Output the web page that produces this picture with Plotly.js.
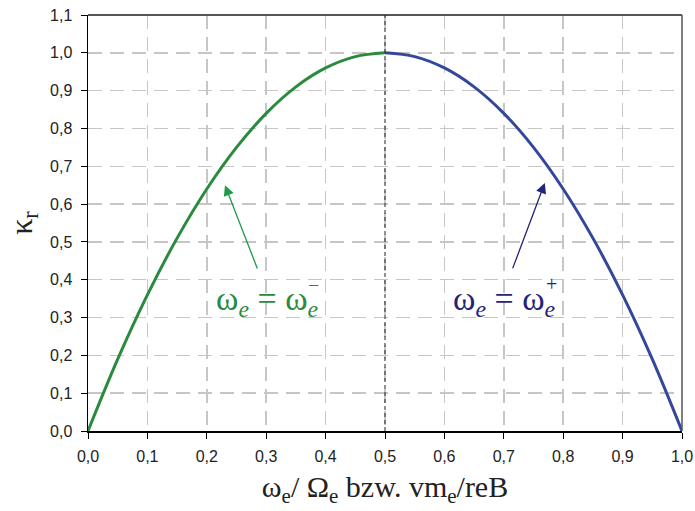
<!DOCTYPE html>
<html>
<head>
<meta charset="utf-8">
<script src="https://cdn.plot.ly/plotly-3.0.1.min.js"></script>
<style>
  html, body { margin: 0; padding: 0; background: #fff; }
  #chart { width: 695px; height: 511px; }
</style>
</head>
<body>
<div id="chart"></div>
<script>
// Branch ω_e = ω_e⁻ (left half)
const xMinus = [0.00, 0.05, 0.10, 0.15, 0.20, 0.25, 0.30, 0.35, 0.40, 0.45, 0.50];
const kMinus = [0.00, 0.19, 0.36, 0.51, 0.64, 0.75, 0.84, 0.91, 0.96, 0.99, 1.00];

// Branch ω_e = ω_e⁺ (right half)
const xPlus = [0.50, 0.55, 0.60, 0.65, 0.70, 0.75, 0.80, 0.85, 0.90, 0.95, 1.00];
const kPlus = [1.00, 0.99, 0.96, 0.91, 0.84, 0.75, 0.64, 0.51, 0.36, 0.19, 0.00];

const xTicks = [0, 0.1, 0.2, 0.3, 0.4, 0.5, 0.6, 0.7, 0.8, 0.9, 1.0];
const yTicks = [0, 0.1, 0.2, 0.3, 0.4, 0.5, 0.6, 0.7, 0.8, 0.9, 1.0, 1.1];

const green = '#2a8a3e';
const blue = '#34489a';
const arrowGreen = '#1f9a4a';
const arrowBlue = '#24237a';

const serif = 'Liberation Serif';
const sans = 'Arial, Liberation Sans, sans-serif';

const traces = [
  { x: xMinus, y: kMinus, type: 'scatter', mode: 'lines',
    line: { color: green, width: 3, shape: 'spline' }, hoverinfo: 'skip' },
  { x: xPlus, y: kPlus, type: 'scatter', mode: 'lines',
    line: { color: blue, width: 3, shape: 'spline' }, hoverinfo: 'skip' }
];

const gridStyle = { gridcolor: '#c6c6c6', gridwidth: 1.5, griddash: '14px,8px' };

const layout = {
  width: 695, height: 511,
  margin: { l: 88, r: 13, t: 15, b: 80 },
  paper_bgcolor: '#fff', plot_bgcolor: '#fff',
  showlegend: false,
  separators: ',.',
  font: { family: sans, size: 16, color: '#222' },
  xaxis: Object.assign({
    range: [0, 1], tickvals: xTicks, tickformat: '.1f',
    tickfont: { family: sans, size: 16, color: '#222' },
    ticklabelstandoff: 4,
    showline: true, linecolor: '#000', linewidth: 1.5,
    ticks: 'outside', ticklen: 6, tickcolor: '#000', tickwidth: 1,
    zeroline: false, showgrid: true,
    title: { text: 'ω<sub>e</sub>/ Ω<sub>e</sub> bzw. vm<sub>e</sub>/reB',
             font: { family: serif, size: 30, color: '#222' }, standoff: 12 }
  }, gridStyle),
  yaxis: Object.assign({
    range: [0, 1.1], tickvals: yTicks, tickformat: '.1f',
    tickfont: { family: sans, size: 16, color: '#222' },
    ticklabelstandoff: 5,
    showline: true, linecolor: '#000', linewidth: 1.5,
    ticks: 'outside', ticklen: 6, tickcolor: '#000', tickwidth: 1,
    zeroline: false, showgrid: true,
    title: { text: 'κ<sub>r</sub>', font: { family: serif, size: 32, color: '#222' }, standoff: 8 }
  }, gridStyle),
  shapes: [
    // frame top and right
    { type: 'line', xref: 'paper', yref: 'paper', x0: 0, x1: 1, y0: 1, y1: 1,
      line: { color: '#555', width: 2 } },
    { type: 'line', xref: 'paper', yref: 'paper', x0: 1, x1: 1, y0: 0, y1: 1,
      line: { color: '#555', width: 1.5 } },
    // maximum marker at x = 0,5
    { type: 'line', xref: 'x', yref: 'paper', x0: 0.5, x1: 0.5, y0: 0, y1: 1,
      line: { color: '#222', width: 1, dash: '4px,3px' } }
  ],
  annotations: [
    { x: 0.2306, y: 0.650, ax: 0.286, ay: 0.426, axref: 'x', ayref: 'y',
      xref: 'x', yref: 'y', text: '', showarrow: true,
      arrowhead: 2, arrowsize: 1.6, arrowwidth: 1.3, arrowcolor: arrowGreen },
    { x: 0.769, y: 0.656, ax: 0.714, ay: 0.426, axref: 'x', ayref: 'y',
      xref: 'x', yref: 'y', text: '', showarrow: true,
      arrowhead: 2, arrowsize: 1.6, arrowwidth: 1.3, arrowcolor: arrowBlue },
    { x: 0.303, y: 0.345, xref: 'x', yref: 'y', showarrow: false,
      text: 'ω<sub><i>e</i></sub> = ω<sub><i>e</i></sub>',
      font: { family: serif, size: 34, color: green } },
    { x: 0.379, y: 0.385, xref: 'x', yref: 'y', showarrow: false,
      text: '−', font: { family: serif, size: 20, color: green } },
    { x: 0.702, y: 0.345, xref: 'x', yref: 'y', showarrow: false,
      text: 'ω<sub><i>e</i></sub> = ω<sub><i>e</i></sub>',
      font: { family: serif, size: 34, color: arrowBlue } },
    { x: 0.781, y: 0.39, xref: 'x', yref: 'y', showarrow: false,
      text: '+', font: { family: serif, size: 20, color: arrowBlue } }
  ]
};

Plotly.newPlot('chart', traces, layout, { staticPlot: true, displayModeBar: false });
</script>
</body>
</html>
